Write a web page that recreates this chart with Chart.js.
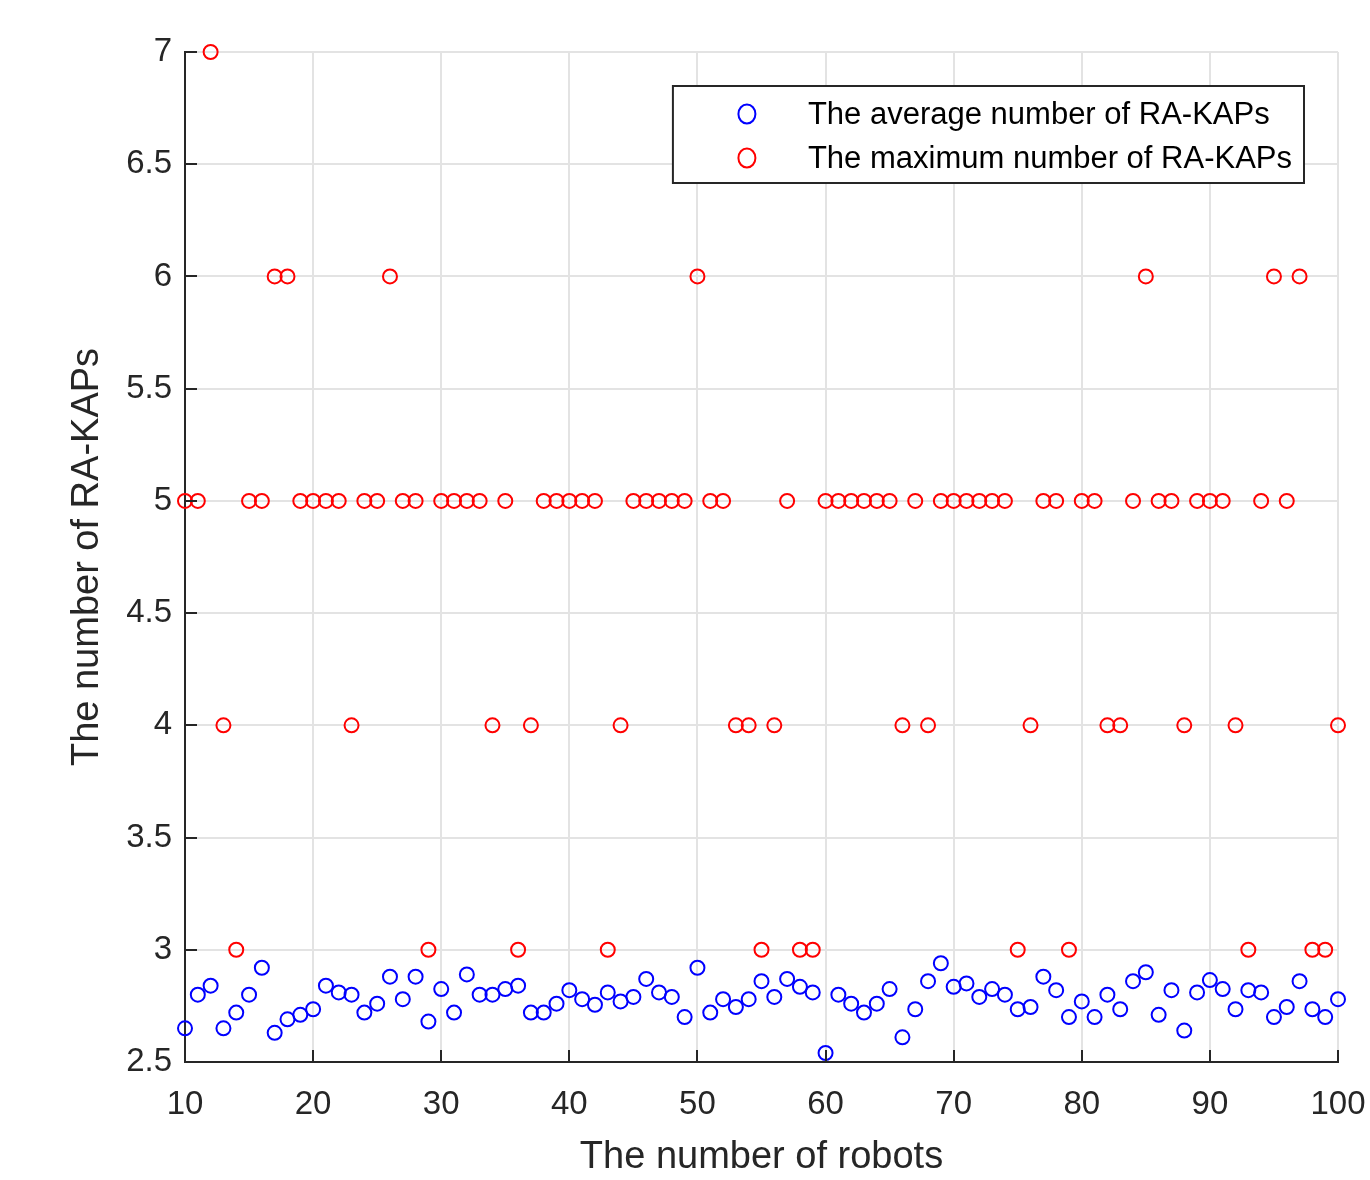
<!DOCTYPE html>
<html>
<head>
<meta charset="utf-8">
<script src="https://cdn.jsdelivr.net/npm/chart.js@4/dist/chart.umd.min.js"></script>
<style>
    html, body { margin: 0; padding: 0; background: #ffffff; }
    #wrap { width: 1370px; height: 1180px; }
</style>
</head>
<body>
<div id="wrap"><canvas id="kapChart" width="1370" height="1180"></canvas></div>
<script>
// Number of robots (x) and the two RA-KAP series
const robots = [];
for (let n = 10; n <= 100; n++) robots.push(n);

const avgKaps = [
    2.65, 2.80, 2.84, 2.65, 2.72, 2.80, 2.92, 2.63, 2.69, 2.71,   // 10-19
    2.735, 2.84, 2.81, 2.80, 2.72, 2.76, 2.88, 2.78, 2.88, 2.68,  // 20-29
    2.825, 2.72, 2.89, 2.80, 2.80, 2.825, 2.84, 2.72, 2.72, 2.76, // 30-39
    2.82, 2.78, 2.755, 2.81, 2.77, 2.79, 2.87, 2.81, 2.79, 2.70,  // 40-49
    2.92, 2.72, 2.78, 2.745, 2.78, 2.86, 2.79, 2.87, 2.835, 2.81, // 50-59
    2.54, 2.80, 2.76, 2.72, 2.76, 2.825, 2.61, 2.735, 2.86, 2.94, // 60-69
    2.835, 2.85, 2.79, 2.825, 2.80, 2.735, 2.745, 2.88, 2.82, 2.70, // 70-79
    2.77, 2.70, 2.80, 2.735, 2.86, 2.90, 2.71, 2.82, 2.64, 2.81,  // 80-89
    2.865, 2.825, 2.735, 2.82, 2.81, 2.70, 2.745, 2.86, 2.735, 2.70, // 90-99
    2.78                                                           // 100
];

const maxKaps = [
    5, 5, 7, 4, 3, 5, 5, 6, 6, 5,   // 10-19
    5, 5, 5, 4, 5, 5, 6, 5, 5, 3,   // 20-29
    5, 5, 5, 5, 4, 5, 3, 4, 5, 5,   // 30-39
    5, 5, 5, 3, 4, 5, 5, 5, 5, 5,   // 40-49
    6, 5, 5, 4, 4, 3, 4, 5, 3, 3,   // 50-59
    5, 5, 5, 5, 5, 5, 4, 5, 4, 5,   // 60-69
    5, 5, 5, 5, 5, 3, 4, 5, 5, 3,   // 70-79
    5, 5, 4, 4, 5, 6, 5, 5, 4, 5,   // 80-89
    5, 5, 4, 3, 5, 6, 5, 6, 3, 3,   // 90-99
    4                               // 100
];

const xTicks = [10, 20, 30, 40, 50, 60, 70, 80, 90, 100];
const yTicks = [2.5, 3, 3.5, 4, 4.5, 5, 5.5, 6, 6.5, 7];

const seriesNames = ['The average number of RA-KAPs', 'The maximum number of RA-KAPs'];

const FONT = '"Liberation Sans", Arial, Helvetica, sans-serif';
const AXIS_COLOR = '#262626';
const GRID_COLOR = '#e3e3e3';

function toPoints(ys) {
    return robots.map(function(x, i) { return { x: x, y: ys[i] }; });
}

// MATLAB style ticks pointing into the plot
const innerTicks = {
    id: 'innerTicks',
    afterDatasetsDraw(chart) {
        const { ctx, chartArea, scales } = chart;
        ctx.save();
        ctx.strokeStyle = AXIS_COLOR;
        ctx.lineWidth = 2;
        ctx.beginPath();
        yTicks.forEach(function(v) {
            const y = Math.round(scales.y.getPixelForValue(v));
            ctx.moveTo(chartArea.left, y);
            ctx.lineTo(chartArea.left + 12, y);
        });
        xTicks.forEach(function(v) {
            const x = Math.round(scales.x.getPixelForValue(v));
            ctx.moveTo(x, chartArea.bottom);
            ctx.lineTo(x, chartArea.bottom - 12);
        });
        ctx.stroke();
        ctx.restore();
    }
};

// Boxed legend in the top right corner of the axes
const boxLegend = {
    id: 'boxLegend',
    afterDraw(chart) {
        const { ctx, chartArea } = chart;
        ctx.save();
        ctx.font = '31px ' + FONT;
        let maxW = 0;
        chart.data.datasets.forEach(function(ds) {
            maxW = Math.max(maxW, ctx.measureText(ds.label).width);
        });
        const right = chartArea.right - 34;
        const top = chartArea.top + 34;
        const w = 135 + maxW + 12;
        const h = 97;
        const left = right - w;

        ctx.fillStyle = '#ffffff';
        ctx.fillRect(left, top, w, h);
        ctx.strokeStyle = AXIS_COLOR;
        ctx.lineWidth = 2;
        ctx.strokeRect(left, top, w, h);

        chart.data.datasets.forEach(function(ds, i) {
            const cy = top + 28 + i * 44;
            ctx.beginPath();
            ctx.ellipse(left + 74, cy, 8.5, 9.5, 0, 0, Math.PI * 2);
            ctx.strokeStyle = ds.borderColor;
            ctx.lineWidth = 2;
            ctx.stroke();
            ctx.fillStyle = '#000000';
            ctx.textAlign = 'left';
            ctx.textBaseline = 'middle';
            ctx.fillText(ds.label, left + 135, cy + 1);
        });
        ctx.restore();
    }
};

new Chart(document.getElementById('kapChart'), {
    type: 'scatter',
    data: {
        datasets: [{
            label: seriesNames[0],
            data: toPoints(avgKaps),
            borderColor: '#0000ff',
            backgroundColor: 'rgba(0,0,0,0)',
            pointStyle: 'circle',
            pointRadius: 7,
            pointBorderWidth: 2,
            clip: false
        }, {
            label: seriesNames[1],
            data: toPoints(maxKaps),
            borderColor: '#ff0000',
            backgroundColor: 'rgba(0,0,0,0)',
            pointStyle: 'circle',
            pointRadius: 7,
            pointBorderWidth: 2,
            clip: false
        }]
    },
    plugins: [innerTicks, boxLegend],
    options: {
        responsive: false,
        animation: false,
        devicePixelRatio: 1,
        layout: { padding: { top: 52, right: 32, bottom: 0, left: 0 } },
        plugins: {
            legend: { display: false },
            tooltip: { enabled: false }
        },
        scales: {
            x: {
                type: 'linear',
                min: 10,
                max: 100,
                afterBuildTicks: function(scale) {
                    scale.ticks = xTicks.map(function(v) { return { value: v }; });
                },
                afterFit: function(scale) {
                    scale.height = 118;
                    scale.paddingLeft = 0;
                    scale.paddingRight = 0;
                },
                grid: { color: GRID_COLOR, lineWidth: 2, drawTicks: false },
                border: { display: true, color: AXIS_COLOR, width: 2 },
                ticks: {
                    color: AXIS_COLOR,
                    font: { family: FONT, size: 33 },
                    padding: 23,
                    maxRotation: 0
                },
                title: {
                    display: true,
                    text: 'The number of robots',
                    color: AXIS_COLOR,
                    font: { family: FONT, size: 38 },
                    padding: { top: 0, bottom: 0 }
                }
            },
            y: {
                type: 'linear',
                min: 2.5,
                max: 7,
                afterBuildTicks: function(scale) {
                    scale.ticks = yTicks.map(function(v) { return { value: v }; });
                },
                afterFit: function(scale) {
                    scale.width = 185;
                    scale.paddingTop = 0;
                    scale.paddingBottom = 0;
                },
                grid: { color: GRID_COLOR, lineWidth: 2, drawTicks: false },
                border: { display: true, color: AXIS_COLOR, width: 2 },
                ticks: {
                    color: AXIS_COLOR,
                    font: { family: FONT, size: 33 },
                    padding: 13,
                    callback: function(v) { return String(v); }
                },
                title: {
                    display: true,
                    text: 'The number of RA-KAPs',
                    color: AXIS_COLOR,
                    font: { family: FONT, size: 38 },
                    padding: { top: 65, bottom: 0 }
                }
            }
        }
    }
});
</script>
</body>
</html>
